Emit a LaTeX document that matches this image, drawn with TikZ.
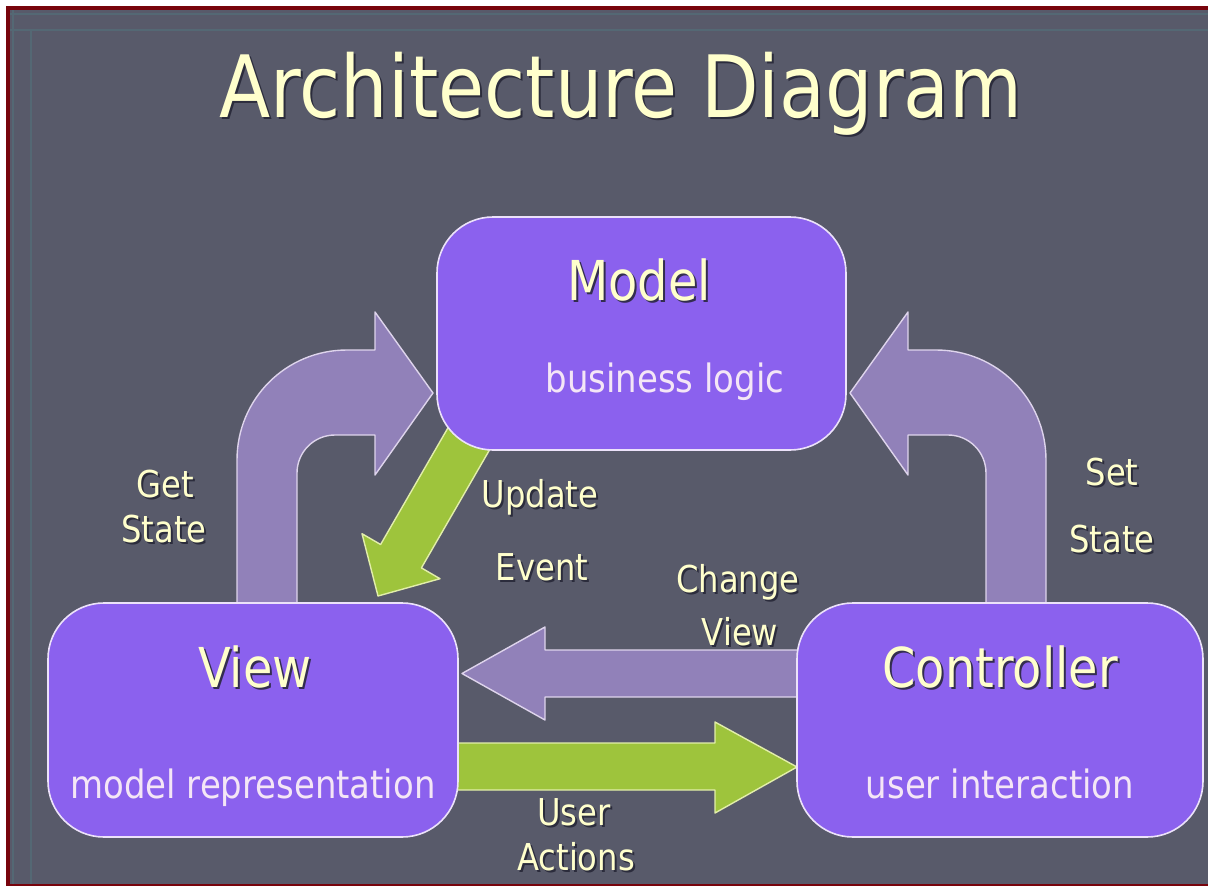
\documentclass[tikz,border=0pt]{standalone}
\usepackage{fontspec}
\setmainfont{DejaVu Sans}[FakeStretch=0.87]

\definecolor{slidebg}{RGB}{88,90,106}
\definecolor{slideedge}{RGB}{120,4,12}
\definecolor{trim}{RGB}{84,104,116}
\definecolor{boxfill}{RGB}{139,97,238}
\definecolor{boxline}{RGB}{236,226,250}
\definecolor{lilac}{RGB}{145,129,185}
\definecolor{lilacline}{RGB}{222,212,236}
\definecolor{leaf}{RGB}{158,196,60}
\definecolor{leafline}{RGB}{226,238,170}
\definecolor{cream}{RGB}{255,255,204}
\definecolor{pale}{RGB}{244,230,246}
\definecolor{shade}{RGB}{36,36,52}

\tikzset{
  box/.style={draw=boxline, line width=1.6pt, fill=boxfill,
              rounded corners=56pt, inner sep=0pt},
  lilacarrow/.style={fill=lilac, draw=lilacline, line width=1.4pt, line join=round},
  leafarrow/.style={fill=leaf, draw=leafline, line width=1.4pt, line join=round},
  txt/.style={anchor=base, inner sep=0pt, text=cream},
  shadowtxt/.style={anchor=base, inner sep=0pt, text=shade, opacity=0.85,
                    xshift=2pt, yshift=-2pt},
  titlefont/.style={font=\fontsize{86}{96}\selectfont},
  headfont/.style={font=\fontsize{55}{62}\selectfont},
  subfont/.style={font=\fontsize{39}{46}\selectfont},
  lblfont/.style={font=\fontsize{37}{44}\selectfont},
}

% text with a dark drop shadow: name, position, style, text
\newcommand{\shadowed}[4]{%
  \node[shadowtxt,#3] (#1-sh) at #2 {#4};
  \node[txt,#3] (#1) at #2 {#4};}

\begin{document}
\begin{tikzpicture}[x=1pt,y=-1pt]
\useasboundingbox (0,0) rectangle (1208,886);

% slide frame and background
\fill[white] (0,0) rectangle (1208,886);
\fill[slideedge] (6,6) rectangle (1208,886);
\fill[slidebg] (10,10) rectangle (1208,884);
\draw[trim, line width=2pt] (10,14) -- (1208,14);
\draw[trim, line width=2pt] (10,30) -- (1208,30);
\draw[trim, line width=2pt] (13,10) -- (13,884);
\draw[trim, line width=2pt] (31,30) -- (31,884);

% title
\shadowed{title}{(621,117)}{titlefont}{Architecture Diagram}

% bent arrow: View up to Model
\draw[lilacarrow] (237,605) -- (237,460)
  .. controls (237,399) and (286,350) .. (347,350)
  -- (375,350) -- (375,312) -- (433,393) -- (375,475) -- (375,435) -- (335,435)
  .. controls (314,435) and (297,452) .. (297,473)
  -- (297,605) -- cycle;

% bent arrow: Controller up to Model
\draw[lilacarrow] (1046,605) -- (1046,460)
  .. controls (1046,399) and (997,350) .. (936,350)
  -- (908,350) -- (908,312) -- (850,393) -- (908,475) -- (908,435) -- (948,435)
  .. controls (969,435) and (986,452) .. (986,473)
  -- (986,605) -- cycle;

% diagonal arrow: Model down to View
\draw[leafarrow] (455.6,414.6) -- (380.6,544.5) -- (362,533.7) -- (378,596)
  -- (440,578.7) -- (421.4,567.9) -- (496.4,438) -- cycle;

% horizontal arrow: Controller to View
\draw[lilacarrow] (800,650) -- (545,650) -- (545,627) -- (462,673.5)
  -- (545,720) -- (545,697) -- (800,697) -- cycle;

% horizontal arrow: View to Controller
\draw[leafarrow] (455,743) -- (715,743) -- (715,722) -- (797,767)
  -- (715,813) -- (715,790) -- (455,790) -- cycle;

% the three components
\node[box, minimum width=409pt, minimum height=233pt] (model) at (641.5,333.5) {};
\node[box, minimum width=410pt, minimum height=234pt] (view) at (253,720) {};
\node[box, minimum width=406pt, minimum height=234pt] (controller) at (1000,720) {};

\shadowed{modelhead}{(639,300)}{headfont}{Model}
\node[txt, subfont, text=pale] (modelsub) at (665,392) {business logic};
\shadowed{viewhead}{(255,687)}{headfont}{View}
\node[txt, subfont, text=pale] (viewsub) at (253,798) {model representation};
\shadowed{ctrlhead}{(1000,687)}{headfont}{Controller}
\node[txt, subfont, text=pale] (ctrlsub) at (1000,798) {user interaction};

% arrow labels
\shadowed{get1}{(165,497)}{lblfont}{Get}
\shadowed{get2}{(164,542)}{lblfont}{State}
\shadowed{upd1}{(540,507)}{lblfont}{Update}
\shadowed{upd2}{(542,580)}{lblfont}{Event}
\shadowed{chg1}{(738,592)}{lblfont}{Change}
\shadowed{chg2}{(740,645)}{lblfont}{View}
\shadowed{set1}{(1112,485)}{lblfont}{Set}
\shadowed{set2}{(1112,552)}{lblfont}{State}
\shadowed{usr1}{(574,825)}{lblfont}{User}
\shadowed{usr2}{(576,870)}{lblfont}{Actions}
\end{tikzpicture}
\end{document}
